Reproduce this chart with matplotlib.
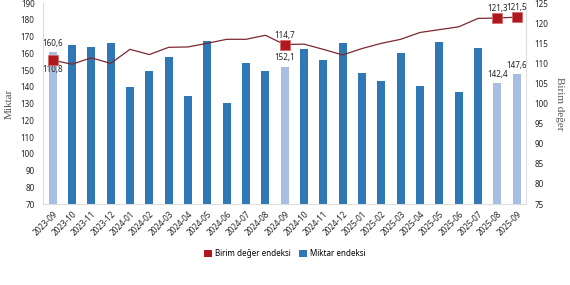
import numpy as np
import matplotlib
matplotlib.use("Agg")
from matplotlib import pyplot as plt
from matplotlib.patches import Patch

# monthly data, 2023-09 .. 2025-09
months = ["2023-09", "2023-10", "2023-11", "2023-12", "2024-01", "2024-02",
          "2024-03", "2024-04", "2024-05", "2024-06", "2024-07", "2024-08",
          "2024-09", "2024-10", "2024-11", "2024-12", "2025-01", "2025-02",
          "2025-03", "2025-04", "2025-05", "2025-06", "2025-07", "2025-08",
          "2025-09"]
miktar = [160.6, 164.9, 163.7, 166.1, 139.9, 149.4, 157.8, 134.5, 167.3, 130.3,
          154.2, 149.4, 152.1, 162.4, 155.8, 166.3, 148.4, 143.6, 160.5, 140.4,
          166.5, 136.9, 163.1, 142.4, 147.6]
birim = [110.8, 109.8, 111.4, 110.0, 113.5, 112.2, 114.0, 114.1, 115.0, 116.0,
         116.0, 117.0, 114.7, 114.8, 113.5, 112.1, 113.7, 115.0, 116.0, 117.7,
         118.4, 119.1, 121.2, 121.3, 121.5]
highlight = [0, 12, 23, 24]

DARK = "#2f77b5"
LIGHT = "#a8bde2"
LINE = "#7a2a30"
MARK = "#b0181f"
TXT = "#222222"

plt.rcParams['font.family'] = ['Noto Sans', 'DejaVu Sans']

fig = plt.figure(figsize=(5.7, 2.85), dpi=100)
ax = fig.add_axes([0.0754, 0.284, 0.848, 0.705])
ax2 = ax.twinx()

x = np.arange(len(months))
cols = [LIGHT if i in highlight else DARK for i in x]
ax.bar(x, [m - 70 for m in miktar], bottom=70, width=0.42, color=cols, zorder=2)

ax2.plot(x, birim, color=LINE, lw=0.9, zorder=3)
ax2.plot([x[i] for i in highlight], [birim[i] for i in highlight], ls="none",
         marker="s", ms=7, mfc=MARK, mec="#d86a6a", mew=0.6, zorder=4)

ax.set_xlim(-0.5, 24.5)
ax.set_ylim(70, 190)
ax.set_yticks(np.arange(70, 191, 10))
ax2.set_ylim(75, 125)
ax2.set_yticks(np.arange(75, 126, 5))

ax.set_xticks(x)
ax.set_xticklabels(months, rotation=45, ha="right", rotation_mode="anchor")
for a in (ax, ax2):
    a.tick_params(length=0, labelsize=5.8, colors=TXT, pad=6)
    for s in a.spines.values():
        s.set_visible(False)
ax.tick_params(axis="x", pad=4)
ax.spines["left"].set_visible(True)
ax.spines["bottom"].set_visible(True)
ax2.spines["right"].set_visible(True)
for s in (ax.spines["left"], ax.spines["bottom"], ax2.spines["right"]):
    s.set_color("#dddddd")
    s.set_linewidth(0.8)

ax.set_ylabel("Miktar", family="Liberation Serif", fontsize=8, color="#555555", labelpad=5)
ax2.set_ylabel("Birim değer", family="Liberation Serif", fontsize=8, color="#555555",
               rotation=270, labelpad=11)

def fmt(v):
    return f"{v:.1f}".replace(".", ",")

# labels
lab = dict(fontsize=5.8, fontweight="bold", color=TXT, ha="center")
for i in highlight:
    ax.text(x[i], miktar[i] + 2.5, fmt(miktar[i]), va="bottom", **lab)
ax2.text(x[0], birim[0] - 1.2, fmt(birim[0]), va="top", **lab)
for i in highlight[1:]:
    ax2.text(x[i], birim[i] + 1.2, fmt(birim[i]), va="bottom", **lab)

handles = [Patch(facecolor=MARK, edgecolor="none"), Patch(facecolor=DARK, edgecolor="none")]
fig.legend(handles, ["Birim değer endeksi", "Miktar endeksi"], loc="center",
           bbox_to_anchor=(0.5, 0.11), ncol=2, frameon=False, fontsize=5.8,
           handlelength=1.0, handleheight=1.0, handletextpad=0.4, columnspacing=1.0)

fig.savefig("out.png", dpi=100)
